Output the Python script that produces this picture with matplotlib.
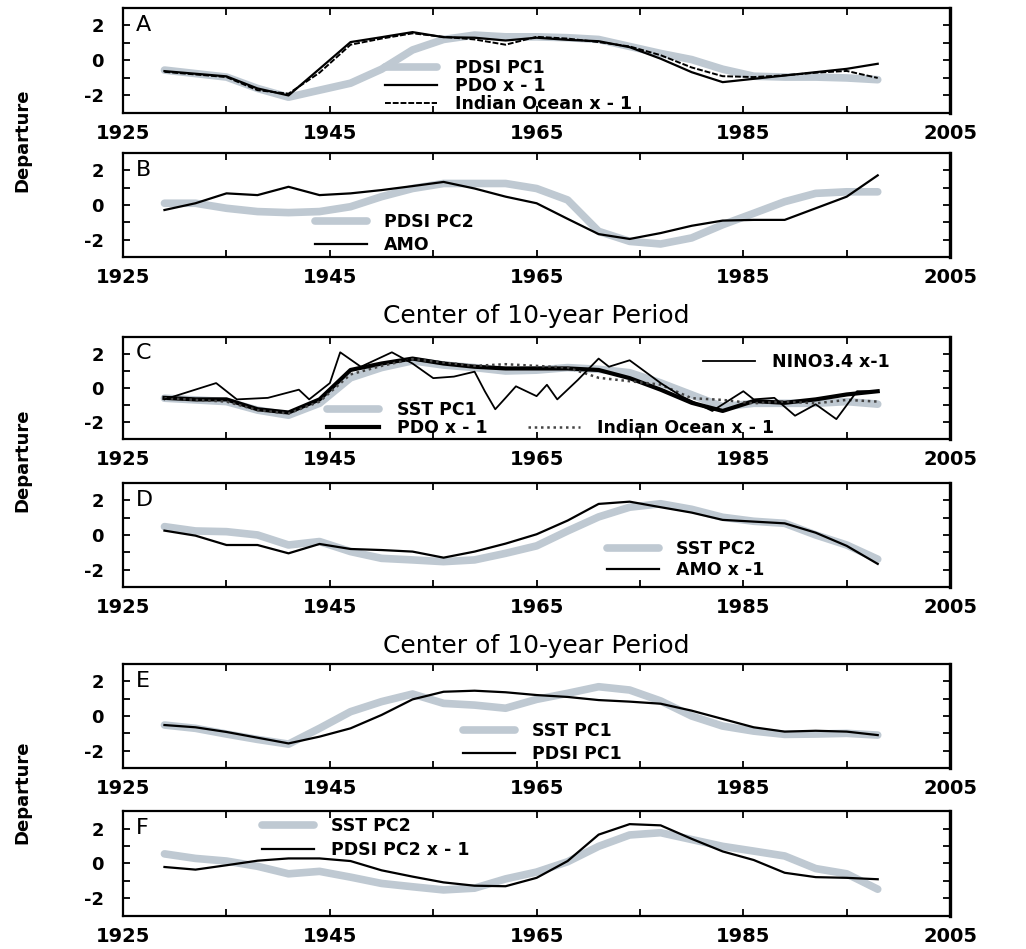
import numpy as np
import matplotlib
matplotlib.use('Agg')
import matplotlib.pyplot as plt

################################################################################
# Data (3-year sampling of the 10-year running values)

years = [1929, 1932, 1935, 1938, 1941, 1944, 1947, 1950, 1953, 1956, 1959, 1962,
         1965, 1968, 1971, 1974, 1977, 1980, 1983, 1986, 1989, 1992, 1995, 1998]

# Panel A
pdsiPC1_A = [-0.55, -0.75, -0.95, -1.6, -2.1, -1.7, -1.3, -0.5, 0.6, 1.2, 1.45, 1.35,
             1.35, 1.3, 1.2, 0.8, 0.4, 0.05, -0.5, -0.9, -0.95, -0.95, -1.0, -1.1]
pdo_A = [-0.61, -0.76, -0.91, -1.6, -2.0, -0.48, 1.05, 1.33, 1.62, 1.33, 1.3, 1.14,
         1.3, 1.18, 1.1, 0.76, 0.1, -0.67, -1.24, -1.05, -0.86, -0.67, -0.48, -0.19]
indian_A = [-0.65, -0.8, -0.95, -1.7, -1.9, -0.7, 0.9, 1.25, 1.55, 1.35, 1.2, 0.9,
            1.35, 1.25, 1.05, 0.8, 0.3, -0.4, -0.9, -0.95, -0.85, -0.7, -0.6, -1.0]

# Panel B
pdsiPC2_B = [0.1, 0.1, -0.19, -0.38, -0.44, -0.38, -0.1, 0.48, 0.95, 1.24, 1.24, 1.24,
             0.95, 0.29, -1.52, -2.1, -2.25, -1.9, -1.14, -0.48, 0.19, 0.67, 0.76, 0.76]
amo_B = [-0.29, 0.1, 0.67, 0.57, 1.05, 0.57, 0.67, 0.86, 1.09, 1.33, 0.95, 0.48,
         0.1, -0.8, -1.68, -1.96, -1.62, -1.2, -0.9, -0.86, -0.86, -0.19, 0.48, 1.71]

# Panel C
sstPC1_C = [-0.6, -0.7, -0.8, -1.3, -1.6, -0.9, 0.6, 1.2, 1.6, 1.35, 1.2, 1.0,
            1.05, 1.2, 1.1, 0.9, 0.3, -0.4, -1.1, -0.9, -0.9, -0.9, -0.8, -0.95]
pdo_C = [-0.58, -0.67, -0.67, -1.25, -1.44, -0.67, 1.06, 1.44, 1.73, 1.44, 1.25, 1.15,
         1.15, 1.15, 1.06, 0.58, -0.1, -0.87, -1.35, -0.77, -0.87, -0.67, -0.38, -0.19]
indian_C = [-0.6, -0.7, -0.8, -1.3, -1.5, -0.8, 0.8, 1.3, 1.7, 1.5, 1.3, 1.4,
            1.3, 1.2, 0.6, 0.4, 0.2, -0.6, -0.7, -0.9, -0.8, -0.9, -0.7, -0.8]
ninoYears = [1929, 1934, 1936, 1939, 1942, 1943, 1945, 1946, 1948, 1951, 1953, 1955,
             1957, 1959, 1960, 1961, 1962, 1963, 1965, 1966, 1967, 1969, 1971, 1972,
             1974, 1977, 1979, 1982, 1985, 1986, 1988, 1990, 1992, 1994, 1996, 1998]
nino_C = [-0.67, 0.29, -0.67, -0.58, -0.1, -0.67, 0.29, 2.1, 1.25, 2.1, 1.44, 0.58,
          0.67, 0.96, -0.2, -1.25, -0.58, 0.1, -0.48, 0.19, -0.67, 0.48, 1.73, 1.25,
          1.63, 0.29, -0.48, -1.35, -0.19, -0.67, -0.58, -1.63, -0.96, -1.83, -0.19, -0.19]

# Panel D
sstPC2_D = [0.48, 0.23, 0.19, 0.0, -0.58, -0.38, -0.96, -1.35, -1.44, -1.54, -1.44, -1.06,
            -0.63, 0.23, 1.04, 1.6, 1.8, 1.48, 1.02, 0.79, 0.67, 0.0, -0.58, -1.4]
amo_D = [0.25, -0.04, -0.58, -0.58, -1.06, -0.52, -0.81, -0.87, -0.96, -1.31, -0.96, -0.5,
         0.04, 0.83, 1.79, 1.92, 1.6, 1.29, 0.87, 0.77, 0.67, 0.13, -0.63, -1.67]

# Panel E
sstPC1_E = [-0.52, -0.71, -1.04, -1.35, -1.62, -0.71, 0.25, 0.83, 1.27, 0.73, 0.63, 0.45,
            0.96, 1.31, 1.69, 1.5, 0.87, 0.0, -0.58, -0.87, -1.06, -1.04, -1.0, -1.1]
pdsiPC1_E = [-0.52, -0.65, -0.92, -1.25, -1.58, -1.19, -0.71, 0.06, 0.96, 1.4, 1.46, 1.37,
             1.21, 1.1, 0.92, 0.83, 0.71, 0.31, -0.17, -0.65, -0.9, -0.85, -0.9, -1.1]

# Panel F
sstPC2_F = [0.55, 0.29, 0.14, -0.16, -0.59, -0.45, -0.78, -1.14, -1.33, -1.51, -1.41, -0.88,
            -0.49, 0.1, 0.98, 1.63, 1.76, 1.37, 0.98, 0.71, 0.43, -0.29, -0.59, -1.47]
pdsiPC2_F = [-0.2, -0.35, -0.1, 0.16, 0.29, 0.29, 0.14, -0.39, -0.75, -1.08, -1.27, -1.3,
             -0.82, 0.14, 1.65, 2.25, 2.18, 1.41, 0.69, 0.2, -0.53, -0.78, -0.82, -0.9]

xTickLabels = ['1925', '1945', '1965', '1985', '2005']
yTickLabels = ['-2', '0', '2']

################################################################################
# Style

grey = '#bfc9d2'
greyLW = 5.5
blackLW = 1.6
legFont = {'size': 12.5, 'weight': 'bold'}

def styleAxes(ax, letter):
	ax.set_xlim(1925, 2005)
	ax.set_ylim(-3, 3)
	ax.set_xticks(range(1925, 2006, 10))
	ax.set_xticklabels([xTickLabels[i // 2] if i % 2 == 0 else '' for i in range(9)])
	ax.set_yticks([-2, -1, 0, 1, 2])
	ax.set_yticklabels([yTickLabels[0], '', yTickLabels[1], '', yTickLabels[2]])
	ax.tick_params(direction='in', length=5, width=1.3, top=True, right=True,
		labelsize=14, pad=8)
	ax.tick_params(axis='y', pad=14, labelsize=13)
	for lab in ax.get_xticklabels() + ax.get_yticklabels():
		lab.set_fontweight('bold')
	for sp in ax.spines.values():
		sp.set_linewidth(1.6)
	ax.spines['right'].set_linewidth(2.4)
	ax.text(0.015, 0.84, letter, transform=ax.transAxes, fontsize=16, va='center', ha='left')

def addLegend(ax, x, y, spacing=0.1, hlen=3.0):
	leg = ax.legend(loc='upper left', bbox_to_anchor=(x, y), frameon=False, prop=legFont,
		handlelength=hlen, handletextpad=1.0, labelspacing=spacing, borderpad=0,
		borderaxespad=0)
	return leg

def greyLine(ax, x, y, lab):
	return ax.plot(x, y, color=grey, lw=greyLW, solid_capstyle='round',
		solid_joinstyle='round', label=lab)[0]

def blackLine(ax, x, y, lab, lw=blackLW, **kw):
	return ax.plot(x, y, color='black', lw=lw, solid_joinstyle='round', label=lab, **kw)[0]

################################################################################
# Main

fig = plt.figure(figsize=(10.26, 9.49), dpi=100)

left = 0.12
width = 0.806
boxes = [(0.881, 0.1106), (0.7292, 0.1096), (0.5374, 0.1075),
         (0.3815, 0.1096), (0.1907, 0.1096), (0.0348, 0.1106)]
axs = [fig.add_axes([left, b, width, h]) for b, h in boxes]

# A
ax = axs[0]
greyLine(ax, years, pdsiPC1_A, 'PDSI PC1')
blackLine(ax, years, pdo_A, 'PDO x - 1')
blackLine(ax, years, indian_A, 'Indian Ocean x - 1', lw=1.4, ls=(0, (3, 1)))
styleAxes(ax, 'A')
addLegend(ax, 0.317, 0.515, spacing=0.0)

# B
ax = axs[1]
greyLine(ax, years, pdsiPC2_B, 'PDSI PC2')
blackLine(ax, years, amo_B, 'AMO')
styleAxes(ax, 'B')
addLegend(ax, 0.232, 0.42, spacing=0.25)
ax.set_xlabel('Center of 10-year Period', fontsize=18, labelpad=12)

# C
ax = axs[2]
g = greyLine(ax, years, sstPC1_C, 'SST PC1')
p = blackLine(ax, years, pdo_C, 'PDO x - 1', lw=3.0)
i, = ax.plot(years, indian_C, color='#444444', lw=1.8, ls=(0, (1, 1.5)), label='Indian Ocean x - 1')
n = blackLine(ax, ninoYears, nino_C, 'NINO3.4 x-1', lw=1.3)
styleAxes(ax, 'C')
leg1 = ax.legend(handles=[g, p], loc='upper left', bbox_to_anchor=(0.247, 0.37), frameon=False,
	prop=legFont, handlelength=3.0, handletextpad=1.0, labelspacing=0.0, borderpad=0, borderaxespad=0)
ax.add_artist(leg1)
leg2 = ax.legend(handles=[i], loc='upper left', bbox_to_anchor=(0.489, 0.2), frameon=False,
	prop=legFont, handlelength=3.0, handletextpad=1.0, borderpad=0, borderaxespad=0)
ax.add_artist(leg2)
ax.legend(handles=[n], loc='upper left', bbox_to_anchor=(0.701, 0.84), frameon=False,
	prop=legFont, handlelength=3.0, handletextpad=1.0, borderpad=0, borderaxespad=0)

# D
ax = axs[3]
greyLine(ax, years, sstPC2_D, 'SST PC2')
blackLine(ax, years, amo_D, 'AMO x -1')
styleAxes(ax, 'D')
addLegend(ax, 0.585, 0.45, spacing=0.15)
ax.set_xlabel('Center of 10-year Period', fontsize=18, labelpad=12)

# E
ax = axs[4]
greyLine(ax, years, sstPC1_E, 'SST PC1')
blackLine(ax, years, pdsiPC1_E, 'PDSI PC1')
styleAxes(ax, 'E')
addLegend(ax, 0.411, 0.44, spacing=0.25)

# F
ax = axs[5]
greyLine(ax, years, sstPC2_F, 'SST PC2')
blackLine(ax, years, pdsiPC2_F, 'PDSI PC2 x - 1')
styleAxes(ax, 'F')
addLegend(ax, 0.168, 0.94, spacing=0.35)

# Shared y labels
for yc in [140, 460, 792]:
	fig.text(22 / 1026, 1 - yc / 949, 'Departure', rotation=90, ha='center', va='center',
		fontsize=13, fontweight='bold', family=['Liberation Sans Narrow', 'DejaVu Sans'])

fig.savefig('out.png', dpi=100)
